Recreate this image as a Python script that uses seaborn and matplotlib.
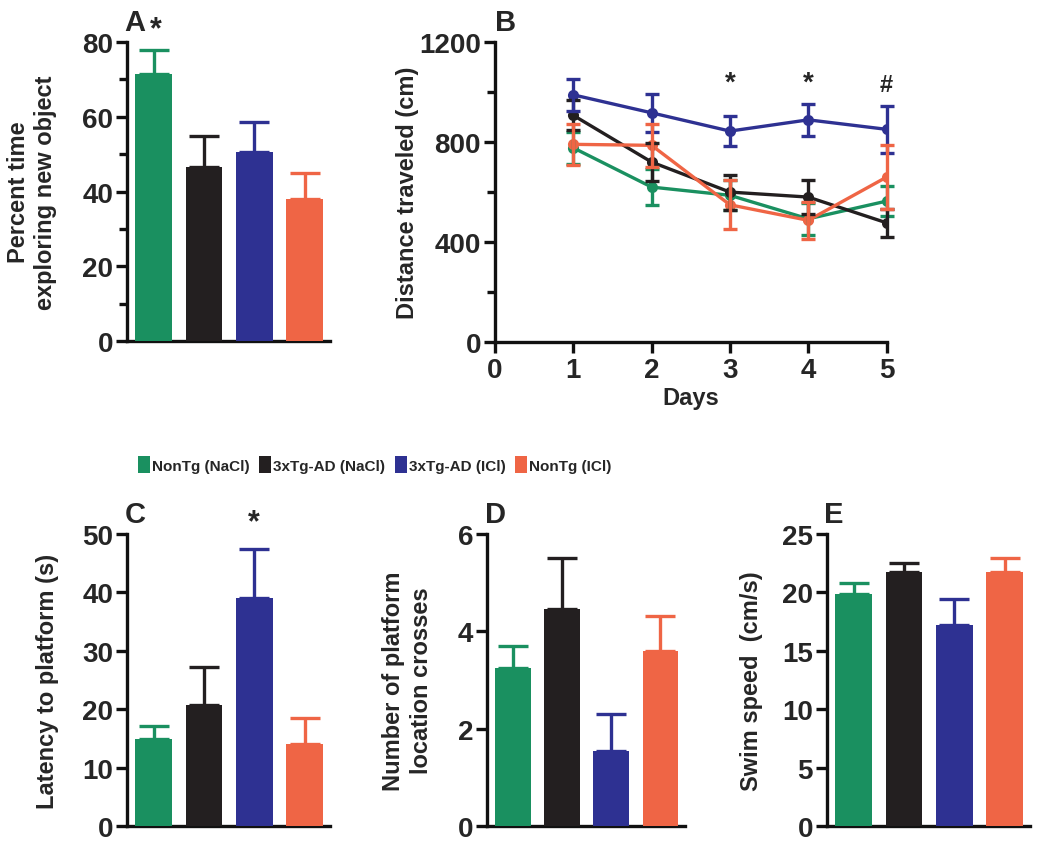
import seaborn as sns
import matplotlib.pyplot as plt
import matplotlib.patches as mpatches
import pandas as pd
import numpy as np

# Groups and colours
groups = ['NonTg (NaCl)', '3xTg-AD (NaCl)', '3xTg-AD (ICl)', 'NonTg (ICl)']
colors = ['#1a9060', '#231f20', '#2e3192', '#ef6545']

# Panel A: novel object exploration
novel_mean = [71.5, 46.5, 50.5, 38.0]
novel_sem = [6.5, 8.5, 8.0, 7.0]

# Panel B: distance traveled over days
days = [1, 2, 3, 4, 5]
dist_mean = {
    'NonTg (NaCl)': [777, 620, 587, 493, 564],
    '3xTg-AD (NaCl)': [907, 720, 600, 580, 477],
    '3xTg-AD (ICl)': [989, 917, 844, 889, 851],
    'NonTg (ICl)': [791, 787, 549, 487, 660],
}
dist_sem = {
    'NonTg (NaCl)': [65, 73, 60, 65, 60],
    '3xTg-AD (NaCl)': [60, 75, 70, 67, 57],
    '3xTg-AD (ICl)': [64, 76, 60, 64, 93],
    'NonTg (ICl)': [82, 86, 98, 75, 127],
}

# Panels C-E: water maze
latency_mean = [15.0, 20.8, 39.0, 14.0]
latency_sem = [2.2, 6.4, 8.4, 4.5]
crosses_mean = [3.25, 4.45, 1.55, 3.6]
crosses_sem = [0.45, 1.05, 0.75, 0.72]
speed_mean = [19.9, 21.7, 17.2, 21.7]
speed_sem = [0.9, 0.8, 2.2, 1.2]

sns.set_style('ticks')
plt.rcParams['font.family'] = ['Liberation Sans', 'DejaVu Sans']
plt.rcParams['font.weight'] = 'bold'
plt.rcParams['axes.labelweight'] = 'bold'

fig = plt.figure(figsize=(10.5, 8.45), dpi=100)

SPINE_W = 2.4
TICK_FS = 20
LABEL_FS = 17


def style_axis(ax):
    sns.despine(ax=ax)
    for s in ['left', 'bottom']:
        ax.spines[s].set_linewidth(SPINE_W)
        ax.spines[s].set_color('#111111')
    ax.tick_params(axis='y', which='major', length=8, width=SPINE_W,
                   labelsize=TICK_FS, pad=2, color='#111111')
    ax.tick_params(axis='y', which='minor', length=6, width=SPINE_W, color='#111111')
    for lab in ax.get_yticklabels():
        lab.set_fontweight('bold')


def bar_panel(rect, means, sems, ylim, yticks, ylabel, letter, minor=None,
              capsize=11, labelpad=16):
    ax = fig.add_axes(rect)
    df = pd.DataFrame({'group': groups, 'value': means})
    sns.barplot(data=df, x='group', y='value', hue='group', palette=colors,
                order=groups, hue_order=groups, width=0.73, errorbar=None,
                legend=False, saturation=1, linewidth=0, ax=ax)
    for p in ax.patches:
        p.set_zorder(3)
    for i, (m, e) in enumerate(zip(means, sems)):
        ax.errorbar(i, m, yerr=[[0], [e]], fmt='none', ecolor=colors[i],
                    elinewidth=2.4, capsize=capsize, capthick=2.4, zorder=1)
    ax.set_xlim(-0.53, 3.5)
    ax.set_ylim(*ylim)
    ax.set_yticks(yticks)
    if minor is not None:
        ax.set_yticks(minor, minor=True)
    ax.set_xticks([])
    ax.set_xlabel('')
    ax.set_ylabel(ylabel, fontsize=LABEL_FS, fontweight='bold', labelpad=labelpad,
                  linespacing=1.25)
    style_axis(ax)
    ax.text(-0.58, ylim[1] * 1.02, letter, fontsize=21, fontweight='bold',
            ha='left', va='bottom', clip_on=False)
    return ax


# Panel A
axA = bar_panel([0.121, 0.595, 0.193, 0.354], novel_mean, novel_sem, (0, 80),
                [0, 20, 40, 60, 80], 'Percent time\nexploring new object', 'A',
                minor=[10, 30, 50, 70], labelpad=18)
axA.text(0.05, 79.5, '*', fontsize=22, fontweight='bold', ha='center', va='bottom')

# Panel B
axB = fig.add_axes([0.4714, 0.594, 0.373, 0.355])
long = pd.DataFrame([
    {'day': d, 'dist': v, 'group': g}
    for g in groups for d, v in zip(days, dist_mean[g])
])
sns.lineplot(data=long, x='day', y='dist', hue='group', hue_order=groups,
             palette=colors, marker='o', markersize=8, markeredgewidth=0,
             linewidth=2.4, legend=False, ax=axB)
for g, c in zip(groups, colors):
    axB.errorbar(days, dist_mean[g], yerr=dist_sem[g], fmt='none', ecolor=c,
                 elinewidth=2.4, capsize=5, capthick=2.4, clip_on=False)
axB.set_xlim(0, 5)
axB.set_ylim(0, 1200)
axB.set_xticks([0, 1, 2, 3, 4, 5])
axB.set_yticks([0, 400, 800, 1200])
axB.set_yticks([200, 600, 1000], minor=True)
axB.set_xlabel('Days', fontsize=LABEL_FS, fontweight='bold', labelpad=2)
axB.set_ylabel('Distance traveled (cm)', fontsize=LABEL_FS, fontweight='bold', labelpad=0)
style_axis(axB)
axB.tick_params(axis='x', which='major', length=8, width=SPINE_W,
                labelsize=TICK_FS, pad=3, color='#111111')
for lab in axB.get_xticklabels():
    lab.set_fontweight('bold')
for d, s in zip([3, 4, 5], ['*', '*', '#']):
    axB.text(d, 985, s, fontsize=20 if s == '*' else 17, fontweight='bold',
             ha='center', va='bottom')
axB.text(0.0, 1225, 'B', fontsize=21, fontweight='bold', ha='left', va='bottom',
         clip_on=False)

# Legend
handles = [mpatches.Patch(facecolor=c, edgecolor='none') for c in colors]
fig.legend(handles, groups, ncol=4, loc='center', bbox_to_anchor=(0.357, 0.449),
           frameon=False, handlelength=0.75, handleheight=1.3, handletextpad=0.15,
           columnspacing=0.65,
           prop={'size': 11, 'weight': 'bold', 'family': ['Liberation Sans']})

# Panels C-E share the bottom row
row_bottom, row_h = 0.021, 0.346

axC = bar_panel([0.121, row_bottom, 0.193, row_h], latency_mean, latency_sem, (0, 50),
                [0, 10, 20, 30, 40, 50], 'Latency to platform (s)', 'C', labelpad=17)
axC.text(2, 49.5, '*', fontsize=22, fontweight='bold', ha='center', va='bottom',
         clip_on=False)

axD = bar_panel([0.4638, row_bottom, 0.1886, row_h], crosses_mean, crosses_sem, (0, 6),
                [0, 2, 4, 6], 'Number of platform\nlocation crosses', 'D', labelpad=18)

axE = bar_panel([0.7876, row_bottom, 0.1933, row_h], speed_mean, speed_sem, (0, 25),
                [0, 5, 10, 15, 20, 25], 'Swim speed  (cm/s)', 'E', labelpad=14)

plt.savefig('out.png', dpi=100, facecolor='white')
plt.close()
